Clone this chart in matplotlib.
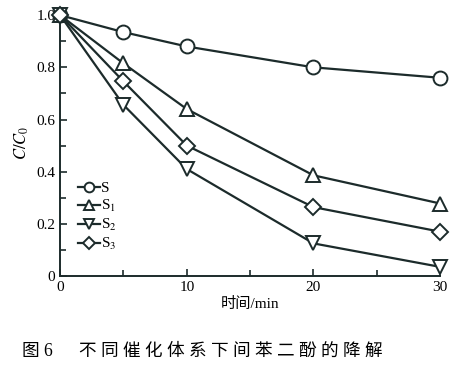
import matplotlib.pyplot as plt

plt.rcParams['font.family'] = ['Liberation Serif', 'Noto Sans CJK SC']
plt.rcParams['mathtext.fontset'] = 'stix'

# data
time_min = [0, 5, 10, 20, 30]
s = [1.0, 0.935, 0.88, 0.80, 0.76]
s1 = [1.0, 0.815, 0.64, 0.386, 0.278]
s2 = [1.0, 0.656, 0.41, 0.125, 0.035]
s3 = [1.0, 0.746, 0.50, 0.264, 0.17]
labels = ['S', r'S$_1$', r'S$_2$', r'S$_3$']
markers = ['o', '^', 'v', 'D']
caption_title = '不同催化体系下间苯二酚的降解'

fig = plt.figure(figsize=(4.59, 3.69), dpi=100)
ax = fig.add_axes([0.131, 0.252, 0.828, 0.721])

line_color = '#1c2b2b'
for y, lab, m in zip([s, s1, s2, s3], labels, markers):
    ms = 8.5 if m == 'D' else 10
    ax.plot(time_min, y, color=line_color, lw=1.6, marker=m, ms=ms,
            mfc='white', mec=line_color, mew=1.4, label=lab, clip_on=False,
            zorder=3)

ax.set_xlim(0, 30)
ax.set_ylim(0, 1.02)
ax.set_xticks([0, 10, 20, 30])
ax.set_xticks([5, 15, 25], minor=True)
ax.set_yticks([0, 0.2, 0.4, 0.6, 0.8, 1.0])
ax.set_yticklabels(['0', '0.2', '0.4', '0.6', '0.8', '1.0'])
ax.set_yticks([0.1, 0.3, 0.5, 0.7, 0.9], minor=True)
ax.tick_params(which='both', direction='in', labelsize=11, width=1.2,
               color=line_color)
ax.tick_params(which='major', length=5)
ax.tick_params(which='minor', length=4)
for side in ['top', 'right']:
    ax.spines[side].set_visible(False)
for side in ['left', 'bottom']:
    ax.spines[side].set_linewidth(1.4)
    ax.spines[side].set_color(line_color)

ax.set_ylabel(r'$C/C_0$', fontsize=12, labelpad=4)
ax.set_xlabel('时间/min', fontsize=11, labelpad=2)

leg = ax.legend(loc='upper left', bbox_to_anchor=(0.028, 0.385), frameon=False,
                fontsize=11, handlelength=1.4, handletextpad=0.1,
                labelspacing=0.2, markerscale=0.7, borderpad=0)

fig.text(0.048, 0.037, '图 6      ' + ' '.join(caption_title),
         fontsize=12.7)

fig.savefig('out.png', dpi=100)
